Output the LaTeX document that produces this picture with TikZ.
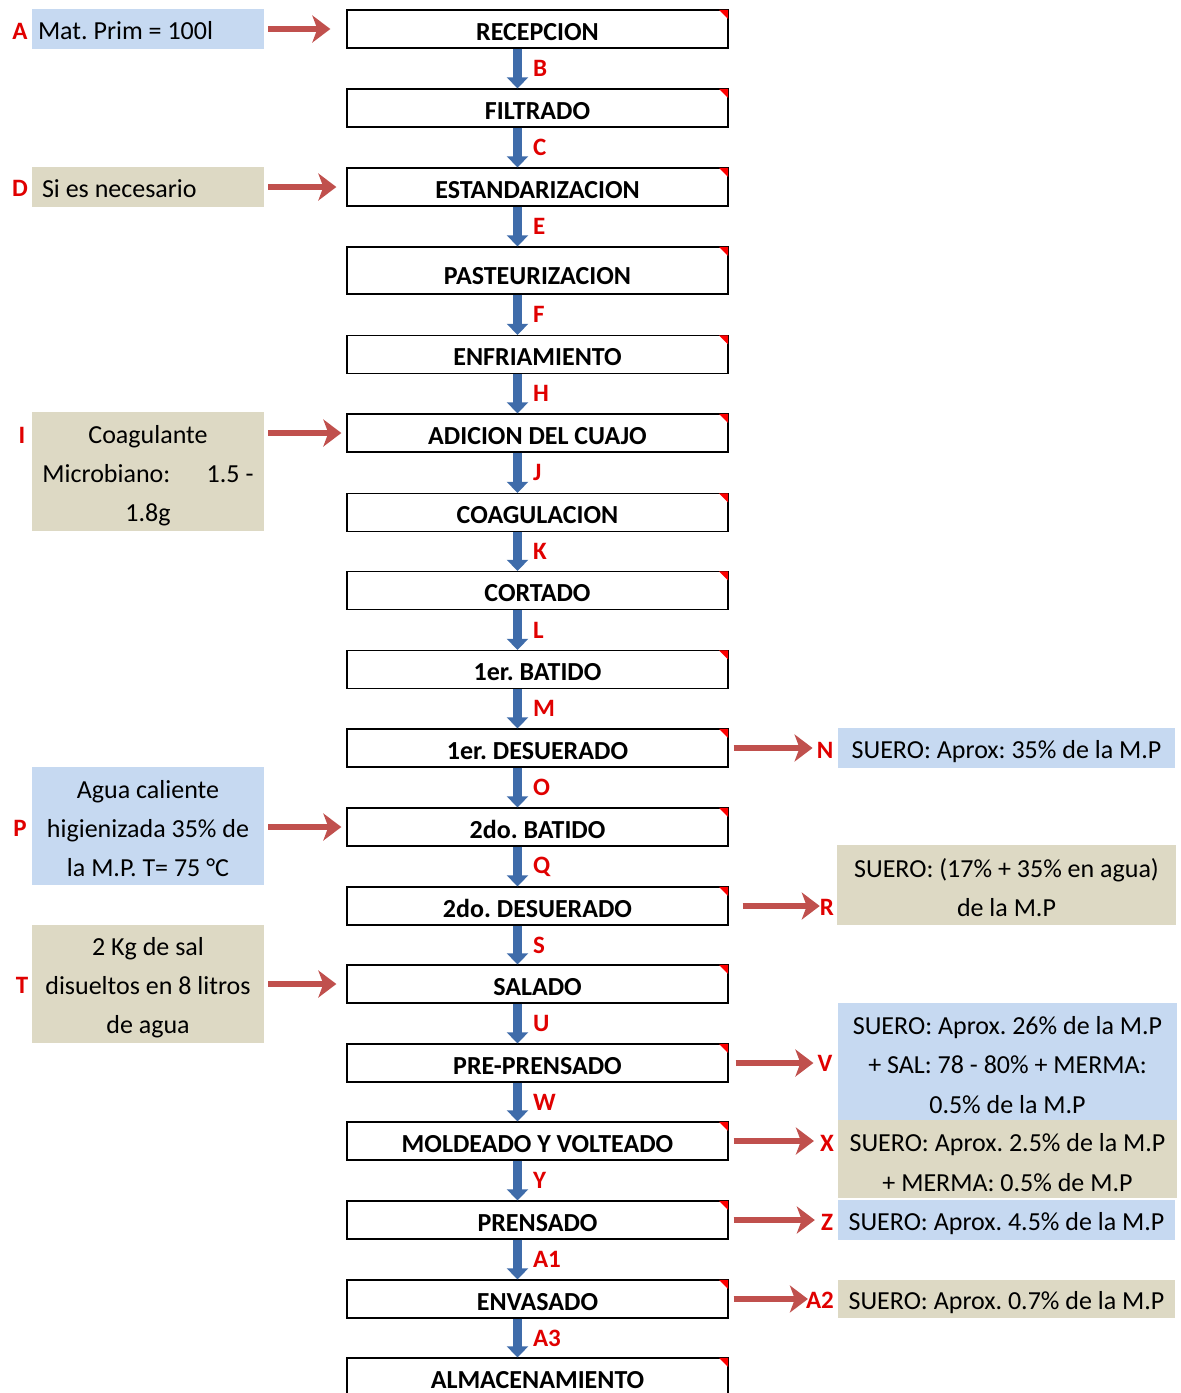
\documentclass[tikz,border=0pt]{standalone}
\usepackage{fontspec}
\setmainfont{Carlito}
\usetikzlibrary{arrows.meta}
\definecolor{boxblue}{HTML}{C6D9F1}
\definecolor{boxtan}{HTML}{DDD9C4}
\definecolor{arrred}{HTML}{C0504D}
\definecolor{arrblue}{HTML}{3F6CAA}
\definecolor{lblred}{HTML}{E00000}
\newcommand{\topstrut}[1]{\rule{0pt}{#1}}
\begin{document}
\frenchspacing
\begin{tikzpicture}[x=1pt,y=-1pt,
  proc/.style={draw=black, line width=1.3pt, fill=white, minimum width=381pt,
    minimum height=38pt, inner sep=0pt, font=\fontsize{26}{30}\selectfont\bfseries,
    text height=22pt, text depth=0pt},
  lnote/.style={fill=#1, inner xsep=3pt, inner ysep=0pt, text width=226pt, align=flush center,
    font=\fontsize{26}{39}\selectfont},
  rnote/.style={fill=#1, inner xsep=2pt, inner ysep=0pt, text width=335pt, align=flush center,
    font=\fontsize{26}{39.5}\selectfont},
  snote/.style={fill=#1, inner sep=0pt, minimum height=40pt, font=\fontsize{26}{30}\selectfont,
    text height=22pt, text depth=1pt},
  letter/.style={text=lblred, inner sep=0pt, font=\fontsize{25}{28}\selectfont\bfseries},
  down/.style={draw=arrblue, line width=9pt, -{Triangle[length=11pt,width=21pt]}},
  side/.style={draw=arrred, line width=6pt, -{Stealth[length=18pt,width=27pt,inset=5pt]}},
  corner/.style={fill=red}
]
\useasboundingbox (0,0) rectangle (1181,1393);
% process boxes
\foreach \n/\t/\y in {p1/RECEPCION/29, p2/FILTRADO/108, p3/ESTANDARIZACION/187,
  p5/ENFRIAMIENTO/354.5, p6/ADICION DEL CUAJO/433, p7/COAGULACION/512.5,
  p8/CORTADO/590.5, p9/1er. BATIDO/669.5, p10/1er. DESUERADO/748, p11/2do. BATIDO/827,
  p12/2do. DESUERADO/906, p13/SALADO/984, p14/PRE-PRENSADO/1063,
  p15/MOLDEADO Y VOLTEADO/1141, p16/PRENSADO/1220, p17/ENVASADO/1299, p18/ALMACENAMIENTO/1377}
  {\node[proc] (\n) at (537.5,\y) {\t};}
\node[proc, minimum height=47pt] (p4) at (537.5,270.5) {\raisebox{-3pt}{PASTEURIZACION}};
\foreach \n in {p1,p2,p3,p4,p5,p6,p7,p8,p9,p10,p11,p12,p13,p14,p15,p16,p17,p18}
  {\fill[corner] ([xshift=-0.6pt,yshift=-0.6pt]\n.north east) -- ++(-9,0) -- ++(9,9) -- cycle;}
% down arrows
\foreach \a/\b/\l in {p1/p2/B, p2/p3/C, p3/p4/E, p4/p5/F, p5/p6/H, p6/p7/J, p7/p8/K,
  p8/p9/L, p9/p10/M, p10/p11/O, p11/p12/Q, p12/p13/S, p13/p14/U, p14/p15/W,
  p15/p16/Y, p16/p17/A1, p17/p18/A3}
  {\draw[down] ([xshift=-20pt]\a.south) -- ([xshift=-20pt]\b.north)
     node[letter, midway, anchor=west, xshift=11pt] {\l};}
% left notes
\node[snote=boxblue, minimum width=232pt] (nA) at (148,29) {\makebox[220pt][l]{Mat. Prim = 100l}};
\node[snote=boxtan, minimum width=232pt] (nD) at (148,187) {\makebox[212pt][l]{Si es necesario}};
\node[lnote=boxtan, minimum height=119pt] (nI) at (148,471.5) {\topstrut{27pt}Coagulante\\Microbiano:\hspace{1.4em}1.5 -\\1.8g};
\node[lnote=boxblue, minimum height=118pt] (nP) at (148,826) {\topstrut{24pt}Agua caliente\\higienizada 35\% de\\la M.P. T= 75 °C};
\node[lnote=boxtan, minimum height=118pt] (nT) at (148,984) {\topstrut{25pt}2 Kg de sal\\disueltos en 8 litros\\de agua};
\node[letter] (lA) at (20,31) {A};
\node[letter] (lD) at (20,188) {D};
\node[letter] (lI) at (22,435) {I};
\node[letter] (lP) at (20,828) {P};
\node[letter] (lT) at (22,985) {T};
% right notes
\node[snote=boxblue, minimum width=337pt] (nN) at (1006.5,748) {SUERO: Aprox: 35\% de la M.P};
\node[rnote=boxtan, minimum height=80pt] (nR) at (1006.5,885) {\topstrut{24pt}SUERO: (17\% + 35\% en agua)\\de la M.P};
\node[rnote=boxblue, minimum height=117pt] (nV) at (1007.5,1061.5) {\topstrut{25pt}SUERO: Aprox. 26\% de la M.P\\+ SAL: 78 - 80\% + MERMA:\\0.5\% de la M.P};
\node[rnote=boxtan, minimum height=78pt] (nX) at (1007.5,1159) {\topstrut{25pt}SUERO: Aprox. 2.5\% de la M.P\\+ MERMA: 0.5\% de M.P};
\node[snote=boxblue, minimum width=337pt] (nZ) at (1006.5,1220) {SUERO: Aprox. 4.5\% de la M.P};
\node[snote=boxtan, minimum width=337pt, minimum height=38pt] (nA2) at (1006.5,1299) {SUERO: Aprox. 0.7\% de la M.P};
\node[letter] (lN) at (825,750) {N};
\node[letter] (lR) at (827,907) {R};
\node[letter] (lV) at (825,1063) {V};
\node[letter] (lX) at (827,1143) {X};
\node[letter] (lZ) at (827,1222) {Z};
\node[letter] (lA2) at (820,1300) {A2};
% left red arrows
\draw[side] ([xshift=4pt]nA.east |- p1.west) -- ([xshift=-16pt]p1.west);
\draw[side] ([xshift=4pt]nD.east |- p3.west) -- ([xshift=-10pt]p3.west);
\draw[side] ([xshift=4pt]nI.east |- p6.west) -- ([xshift=-5pt]p6.west);
\draw[side] ([xshift=4pt]nP.east |- p11.west) -- ([xshift=-5pt]p11.west);
\draw[side] ([xshift=4pt]nT.east |- p13.west) -- ([xshift=-10pt]p13.west);
% right red arrows
\draw[side] ([xshift=5pt]p10.east) -- ([xshift=-4pt]lN.west |- p10.east);
\draw[side] ([xshift=14pt]p12.east) -- ([xshift=0pt]lR.west |- p12.east);
\draw[side] ([xshift=7pt]p14.east) -- ([xshift=-4pt]lV.west |- p14.east);
\draw[side] ([xshift=5pt]p15.east) -- ([xshift=-6pt]lX.west |- p15.east);
\draw[side] ([xshift=5pt]p16.east) -- ([xshift=-6pt]lZ.west |- p16.east);
\draw[side] ([xshift=5pt]p17.east) -- ([xshift=2pt]lA2.west |- p17.east);
\end{tikzpicture}
\end{document}
